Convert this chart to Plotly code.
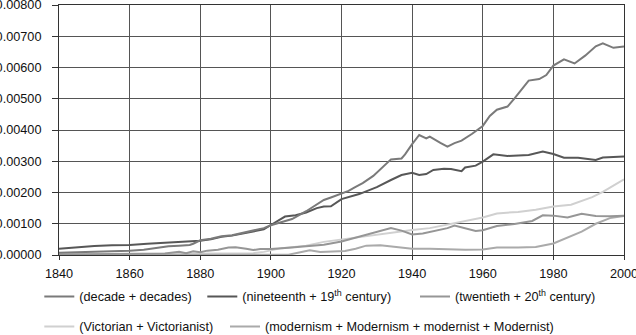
import plotly.graph_objects as go

# ---- data (values in percent) ----
decade_years = [1840, 1845, 1850, 1855, 1860, 1864, 1868, 1871, 1874, 1877, 1878, 1880, 1883, 1886,
                1889, 1892, 1895, 1898, 1900, 1903, 1906, 1910, 1913, 1915, 1917, 1920, 1922, 1924,
                1926, 1929, 1932, 1934, 1937, 1938, 1940, 1942, 1944, 1945, 1948, 1950, 1952, 1954,
                1957, 1960, 1962, 1964, 1967, 1969, 1973, 1976, 1978, 1980, 1983, 1986, 1989, 1992,
                1994, 1997, 2000]
decade_vals = [0.00007, 0.00008, 0.00010, 0.00012, 0.00014, 0.00017, 0.00023, 0.00028, 0.00030, 0.00032,
               0.00036, 0.00047, 0.00052, 0.00060, 0.00063, 0.00070, 0.00078, 0.00086, 0.00095, 0.00105,
               0.00115, 0.00140, 0.00162, 0.00176, 0.00184, 0.00197, 0.00205, 0.00218, 0.00230, 0.00253,
               0.00285, 0.00306, 0.00309, 0.00322, 0.00355, 0.00384, 0.00373, 0.00379, 0.00359, 0.00347,
               0.00358, 0.00366, 0.00388, 0.00413, 0.00445, 0.00465, 0.00475, 0.00501, 0.00558, 0.00563,
               0.00576, 0.00606, 0.00626, 0.00613, 0.00638, 0.00668, 0.00677, 0.00663, 0.00667]

nineteenth_years = [1840, 1845, 1850, 1855, 1860, 1865, 1870, 1875, 1880, 1883, 1886, 1889, 1892, 1895,
                    1898, 1900, 1902, 1904, 1907, 1910, 1913, 1915, 1917, 1920, 1925, 1930, 1934, 1937,
                    1940, 1942, 1944, 1946, 1949, 1951, 1954, 1955, 1958, 1960, 1963, 1967, 1973, 1977,
                    1980, 1983, 1987, 1992, 1994, 2000]
nineteenth_vals = [0.00020, 0.00025, 0.00029, 0.00031, 0.00032, 0.00036, 0.00039, 0.00042, 0.00046,
                   0.00050, 0.00058, 0.00062, 0.00068, 0.00074, 0.00082, 0.00096, 0.00110, 0.00123,
                   0.00127, 0.00136, 0.00150, 0.00155, 0.00156, 0.00179, 0.00195, 0.00217, 0.00240,
                   0.00256, 0.00263, 0.00256, 0.00259, 0.00272, 0.00276, 0.00275, 0.00268, 0.00280,
                   0.00286, 0.00299, 0.00322, 0.00317, 0.00320, 0.00331, 0.00323, 0.00311, 0.00311,
                   0.00304, 0.00312, 0.00315]

twentieth_years = [1840, 1860, 1870, 1874, 1876, 1878, 1880, 1882, 1885, 1888, 1890, 1893, 1895, 1897,
                   1900, 1905, 1910, 1915, 1920, 1925, 1930, 1934, 1937, 1940, 1943, 1946, 1950, 1952,
                   1955, 1958, 1960, 1964, 1969, 1974, 1977, 1980, 1984, 1988, 1992, 1996, 2000]
twentieth_vals = [0.00002, 0.00003, 0.00005, 0.00010, 0.00006, 0.00012, 0.00009, 0.00014, 0.00017,
                  0.00024, 0.00025, 0.00020, 0.00016, 0.00019, 0.00019, 0.00023, 0.00027, 0.00033,
                  0.00043, 0.00058, 0.00072, 0.00086, 0.00078, 0.00066, 0.00069, 0.00076, 0.00086,
                  0.00094, 0.00085, 0.00077, 0.00079, 0.00093, 0.00099, 0.00109, 0.00127, 0.00126,
                  0.00120, 0.00132, 0.00125, 0.00124, 0.00126]

victorian_years = [1840, 1860, 1880, 1890, 1895, 1898, 1900, 1903, 1906, 1910, 1915, 1920, 1925, 1930,
                   1935, 1940, 1945, 1950, 1955, 1960, 1964, 1970, 1975, 1980, 1985, 1988, 1991, 1994,
                   1997, 2000]
victorian_vals = [0.00002, 0.00003, 0.00004, 0.00005, 0.00006, 0.00010, 0.00015, 0.00022, 0.00025,
                  0.00030, 0.00042, 0.00050, 0.00057, 0.00065, 0.00072, 0.00080, 0.00086, 0.00098,
                  0.00108, 0.00120, 0.00133, 0.00138, 0.00145, 0.00155, 0.00161, 0.00172, 0.00185,
                  0.00202, 0.00222, 0.00242]

modernism_years = [1840, 1900, 1905, 1908, 1911, 1914, 1918, 1921, 1924, 1927, 1931, 1936, 1940, 1945,
                   1950, 1955, 1960, 1964, 1970, 1975, 1980, 1984, 1988, 1992, 1996, 2000]
modernism_vals = [0.00000, 0.00000, 0.00001, 0.00008, 0.00015, 0.00010, 0.00011, 0.00013, 0.00020,
                  0.00030, 0.00031, 0.00026, 0.00020, 0.00020, 0.00018, 0.00017, 0.00018, 0.00024,
                  0.00024, 0.00026, 0.00037, 0.00057, 0.00075, 0.00100, 0.00118, 0.00125]

names = ["(decade + decades)",
         "(nineteenth + 19<sup>th</sup> century)",
         "(twentieth + 20<sup>th</sup> century)",
         "(Victorian + Victorianist)",
         "(modernism + Modernism + modernist + Modernist)"]

y_ticks = [0.0, 0.001, 0.002, 0.003, 0.004, 0.005, 0.006, 0.007, 0.008]
x_ticks = [1840, 1860, 1880, 1900, 1920, 1940, 1960, 1980, 2000]

# ---- style ----
colors = ["#7a7a7a", "#575757", "#969696", "#d0d0d0", "#aaaaaa"]
W, H = 636, 335
legend_pos = [(39.3, 296.7), (202.3, 296.7), (415.0, 296.7), (39.3, 326.7), (225.0, 326.7)]
legend_ids = ["legend", "legend2", "legend3", "legend4", "legend5"]

series = [(decade_years, decade_vals), (nineteenth_years, nineteenth_vals),
          (twentieth_years, twentieth_vals), (victorian_years, victorian_vals),
          (modernism_years, modernism_vals)]

fig = go.Figure()
# draw lighter ones first so darker lines sit on top
order = [3, 4, 2, 1, 0]
for i in order:
    xs, ys = series[i]
    fig.add_trace(go.Scatter(x=xs, y=ys, mode="lines", name=names[i],
                             line=dict(color=colors[i], width=2),
                             legend=legend_ids[i], showlegend=True))

font = dict(family="Liberation Sans, Arial, sans-serif", size=12.7, color="#111111")
layout_legends = {}
for lid, (px, py) in zip(legend_ids, legend_pos):
    layout_legends[lid] = dict(x=px / W, y=1 - py / H, xref="container", yref="container",
                               xanchor="left", yanchor="middle", orientation="h",
                               bgcolor="rgba(0,0,0,0)", borderwidth=0, font=font,
                               itemclick=False, itemdoubleclick=False)

fig.update_layout(
    width=W, height=H,
    margin=dict(l=59, r=12, t=5, b=80, autoexpand=False),
    plot_bgcolor="white", paper_bgcolor="white",
    font=font,
    **layout_legends,
)
fig.update_xaxes(range=[1840, 2000], tickvals=x_ticks, ticktext=[str(v) for v in x_ticks],
                 showgrid=True, gridcolor="#555555", gridwidth=1,
                 showline=True, linecolor="#333333", linewidth=1, mirror=True,
                 ticks="outside", ticklen=4, tickcolor="#333333", zeroline=False,
                 tickfont=font, automargin=False, ticklabelstandoff=3,
                 ticklabeloverflow="allow")
fig.update_yaxes(range=[0, 0.008], tickvals=y_ticks, tickformat=".5f", ticksuffix="%",
                 showgrid=True, gridcolor="#555555", gridwidth=1,
                 showline=True, linecolor="#333333", linewidth=1, mirror=True,
                 ticks="outside", ticklen=6, tickcolor="#333333", zeroline=False,
                 tickfont=font, automargin=False, ticklabelstandoff=8,
                 ticklabeloverflow="allow")

fig.write_html("out.html")
